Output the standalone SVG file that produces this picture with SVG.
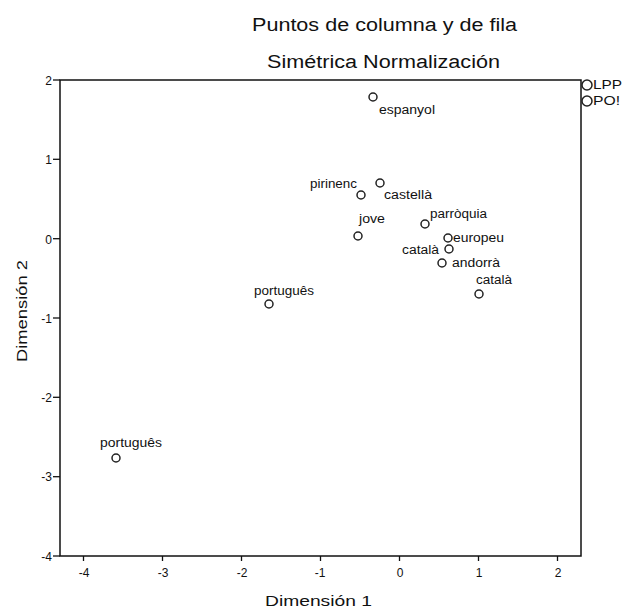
<svg xmlns="http://www.w3.org/2000/svg" width="622" height="608" viewBox="0 0 622 608">
<style>
text{font-family:"Liberation Sans",Arial,sans-serif;fill:#111}
.title{font-size:18px}
.axl{font-size:14px}
.tick{font-size:12px}
.lbl{font-size:12px}
.pt{fill:none;stroke:#222;stroke-width:1.5}
.frame{fill:none;stroke:#111;stroke-width:1.5}
.tk{stroke:#111;stroke-width:1.3}
</style>
<rect width="622" height="608" fill="#fff"/>
<g id="titles">
<text class="title" x="252" y="31" textLength="265" lengthAdjust="spacingAndGlyphs">Puntos de columna y de fila</text>
<text class="title" x="267" y="68" textLength="233" lengthAdjust="spacingAndGlyphs">Simétrica Normalización</text>
</g>
<g id="axes">
<rect class="frame" x="60" y="80" width="521" height="476"/>
<g class="tk">
<line x1="83.5" y1="556" x2="83.5" y2="561"/>
<line x1="162.5" y1="556" x2="162.5" y2="561"/>
<line x1="241.5" y1="556" x2="241.5" y2="561"/>
<line x1="320.5" y1="556" x2="320.5" y2="561"/>
<line x1="399.5" y1="556" x2="399.5" y2="561"/>
<line x1="478.5" y1="556" x2="478.5" y2="561"/>
<line x1="557.5" y1="556" x2="557.5" y2="561"/>
<line x1="53" y1="80" x2="60" y2="80"/>
<line x1="53" y1="159.3" x2="60" y2="159.3"/>
<line x1="53" y1="238.7" x2="60" y2="238.7"/>
<line x1="53" y1="318" x2="60" y2="318"/>
<line x1="53" y1="397.3" x2="60" y2="397.3"/>
<line x1="53" y1="476.7" x2="60" y2="476.7"/>
<line x1="53" y1="556" x2="60" y2="556"/>
</g>
<g class="tick" text-anchor="middle">
<text x="84" y="577">-4</text>
<text x="163" y="577">-3</text>
<text x="242" y="577">-2</text>
<text x="320" y="577">-1</text>
<text x="400" y="577">0</text>
<text x="479" y="577">1</text>
<text x="558" y="577">2</text>
</g>
<g class="tick" text-anchor="end">
<text x="52" y="84.5">2</text>
<text x="52" y="164">1</text>
<text x="52" y="243.5">0</text>
<text x="52" y="322.5">-1</text>
<text x="52" y="402">-2</text>
<text x="52" y="481">-3</text>
<text x="52" y="560.5">-4</text>
</g>
<text class="axl" x="265" y="606" textLength="107" lengthAdjust="spacingAndGlyphs">Dimensión 1</text>
<text class="axl" transform="translate(27,362) rotate(-90)" textLength="102" lengthAdjust="spacingAndGlyphs">Dimensión 2</text>
</g>
<g id="points">
<g id="p-espanyol"><circle class="pt" cx="373" cy="97" r="4"/><text class="lbl" x="379" y="114" textLength="56" lengthAdjust="spacingAndGlyphs">espanyol</text></g>
<g id="p-pirinenc"><circle class="pt" cx="361" cy="195" r="4"/><text class="lbl" x="310" y="188" textLength="47" lengthAdjust="spacingAndGlyphs">pirinenc</text></g>
<g id="p-castella"><circle class="pt" cx="380" cy="183" r="4"/><text class="lbl" x="384" y="199" textLength="48" lengthAdjust="spacingAndGlyphs">castellà</text></g>
<g id="p-jove"><circle class="pt" cx="358" cy="236" r="4"/><text class="lbl" x="359" y="223" textLength="26" lengthAdjust="spacingAndGlyphs">jove</text></g>
<g id="p-parroquia"><circle class="pt" cx="425" cy="224" r="4"/><text class="lbl" x="430" y="218" textLength="57" lengthAdjust="spacingAndGlyphs">parròquia</text></g>
<g id="p-europeu"><circle class="pt" cx="448" cy="238" r="4"/><text class="lbl" x="453" y="242" textLength="51" lengthAdjust="spacingAndGlyphs">europeu</text></g>
<g id="p-catala1"><circle class="pt" cx="449" cy="249" r="4"/><text class="lbl" x="402" y="254" textLength="37" lengthAdjust="spacingAndGlyphs">català</text></g>
<g id="p-andorra"><circle class="pt" cx="442" cy="263" r="4"/><text class="lbl" x="452" y="267" textLength="48" lengthAdjust="spacingAndGlyphs">andorrà</text></g>
<g id="p-catala2"><circle class="pt" cx="479" cy="294" r="4"/><text class="lbl" x="476" y="284" textLength="36" lengthAdjust="spacingAndGlyphs">català</text></g>
<g id="p-portugues1"><circle class="pt" cx="269" cy="304" r="4"/><text class="lbl" x="254" y="295" textLength="60" lengthAdjust="spacingAndGlyphs">português</text></g>
<g id="p-portugues2"><circle class="pt" cx="116" cy="458" r="4"/><text class="lbl" x="100" y="447" textLength="62" lengthAdjust="spacingAndGlyphs">português</text></g>
</g>
<g id="legend">
<g id="lg-lpp"><circle class="pt" cx="587" cy="85" r="5"/><text class="lbl" x="593" y="89" textLength="29" lengthAdjust="spacingAndGlyphs">LPP</text></g>
<g id="lg-po"><circle class="pt" cx="587" cy="101" r="5" stroke="#777"/><text class="lbl" x="593" y="105" textLength="27" lengthAdjust="spacingAndGlyphs">PO!</text></g>
</g>
</svg>
